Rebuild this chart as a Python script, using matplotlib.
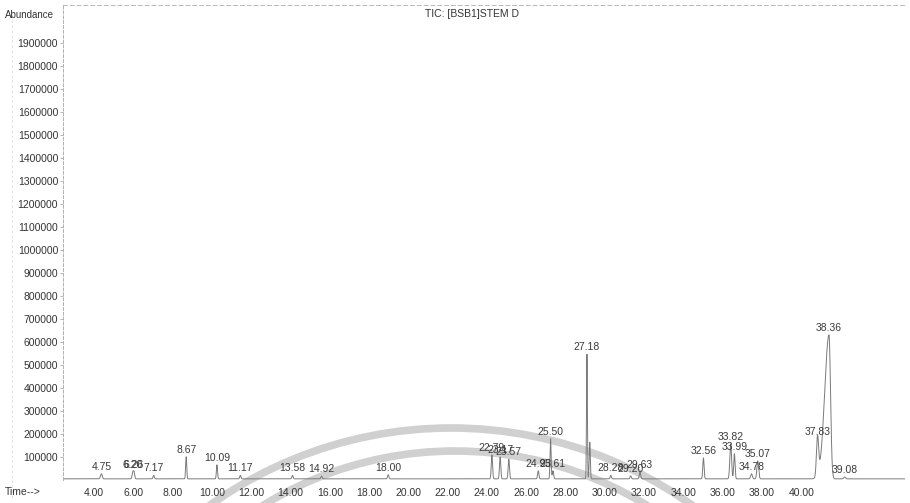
import numpy as np
import matplotlib
matplotlib.use("Agg")
import matplotlib.pyplot as plt
from matplotlib.patches import Circle

plt.rcParams['font.family'] = ['Liberation Sans', 'DejaVu Sans']

# Labelled peaks: retention time (min) and apex abundance
peak_time = [4.75, 6.20, 6.26, 7.17, 8.67, 10.09, 11.17, 13.58, 14.92, 18.00,
             22.79, 23.17, 23.57, 24.93, 25.50, 25.61, 27.18, 28.28, 29.20,
             29.63, 32.56, 33.82, 33.99, 34.78, 35.07, 37.83, 38.36, 39.08]
peak_height = [22000, 28000, 30000, 15000, 96000, 61000, 15000, 15000, 12000,
               18000, 104000, 95000, 85000, 35000, 174000, 35000, 543000,
               15000, 13000, 30000, 91000, 152000, 109000, 22000, 78000,
               172000, 626000, 8000]
# peak widths (left / right sigma, min)
peak_wl = [0.04, 0.03, 0.03, 0.03, 0.025, 0.025, 0.03, 0.03, 0.03, 0.03,
           0.03, 0.03, 0.03, 0.03, 0.025, 0.03, 0.02, 0.03, 0.03,
           0.03, 0.03, 0.04, 0.03, 0.04, 0.04, 0.05, 0.20, 0.04]
peak_wr = [0.04, 0.03, 0.03, 0.03, 0.025, 0.025, 0.03, 0.03, 0.03, 0.03,
           0.03, 0.03, 0.03, 0.03, 0.025, 0.03, 0.02, 0.03, 0.03,
           0.03, 0.03, 0.04, 0.03, 0.04, 0.04, 0.05, 0.07, 0.04]

# unlabelled shoulder next to the main peak
extra_time = [27.31]
extra_height = [160000]

baseline = 5000
y_ticks = list(range(100000, 2000000, 100000))
x_tick_values = [4, 6, 8, 10, 12, 14, 16, 18, 20, 22, 24, 26, 28, 30, 32, 34, 36, 38, 40]

W, H = 910, 503
fig = plt.figure(figsize=(W / 100, H / 100), dpi=100)

# background layer in pixel coordinates (grey arcs printed across the page)
bg = fig.add_axes([0, 0, 1, 1], zorder=0)
bg.set_xlim(0, W)
bg.set_ylim(H, 0)
bg.axis('off')
for (cx, cy, r) in [(451, 843, 415), (455, 817, 366)]:
    bg.add_patch(Circle((cx, cy), r, fill=False, edgecolor='#d0d0d0', lw=5.5))
# faint page frame line on the far left
bg.plot([12, 12], [15, 500], color='#dcdcdc', lw=0.6, ls=(0, (3, 3)))

ax = fig.add_axes([63 / W, 1 - 480 / H, (905 - 63) / W, (480 - 5) / H], zorder=1)
ax.patch.set_alpha(0)

t = np.linspace(2.98, 41.87, 12000)
signal = np.full_like(t, baseline, dtype=float)
for tc, h, wl, wr in zip(peak_time, peak_height, peak_wl, peak_wr):
    s = np.where(t < tc, wl, wr)
    signal += h * np.exp(-0.5 * ((t - tc) / s) ** 2)
for tc, h in zip(extra_time, extra_height):
    signal += h * np.exp(-0.5 * ((t - tc) / 0.025) ** 2)

ax.plot(t, signal, color='#7a7a7a', lw=0.7)

for tc, h in zip(peak_time, peak_height):
    ax.annotate(f"{tc:.2f}", (tc, h + baseline), xytext=(0, 1.5),
                textcoords='offset points', ha='center', va='bottom',
                fontsize=7.5, color='#3a3a3a')

ax.set_xlim(2.98, 41.87)
ax.set_ylim(0, 2.065e6)

ax.set_yticks(y_ticks)
ax.set_yticklabels([str(v) for v in y_ticks])
ax.tick_params(axis='y', length=2, width=0.6, pad=1.5, labelsize=7.5,
               colors='#333333', color='#aaaaaa')

# printed time scale (labels spaced as on the plot printout)
x_tick_pos = [4.41 + (v - 4) * 0.9075 for v in x_tick_values]
ax.set_xticks(x_tick_pos)
ax.set_xticklabels([f"{v:.2f}" for v in x_tick_values])
ax.tick_params(axis='x', length=0, pad=6, labelsize=7.5, colors='#333333')

for side in ['right', 'bottom']:
    ax.spines[side].set_visible(False)
ax.spines['left'].set_linestyle((0, (3, 2)))
ax.spines['left'].set_color('#b0b0b0')
ax.spines['left'].set_linewidth(0.7)
ax.spines['top'].set_linestyle((0, (4, 3)))
ax.spines['top'].set_color('#b8b8b8')
ax.spines['top'].set_linewidth(0.7)

fig.text(5 / W, 1 - 15 / H, "Abundance", fontsize=7, color='#333333',
         ha='left', va='center')
fig.text(472 / W, 1 - 14 / H, "TIC: [BSB1]STEM D", fontsize=7.5,
         color='#333333', ha='center', va='center')
fig.text(5 / W, 1 - 492 / H, "Time-->", fontsize=7.5, color='#333333',
         ha='left', va='center')

fig.savefig("out.png", dpi=100)
